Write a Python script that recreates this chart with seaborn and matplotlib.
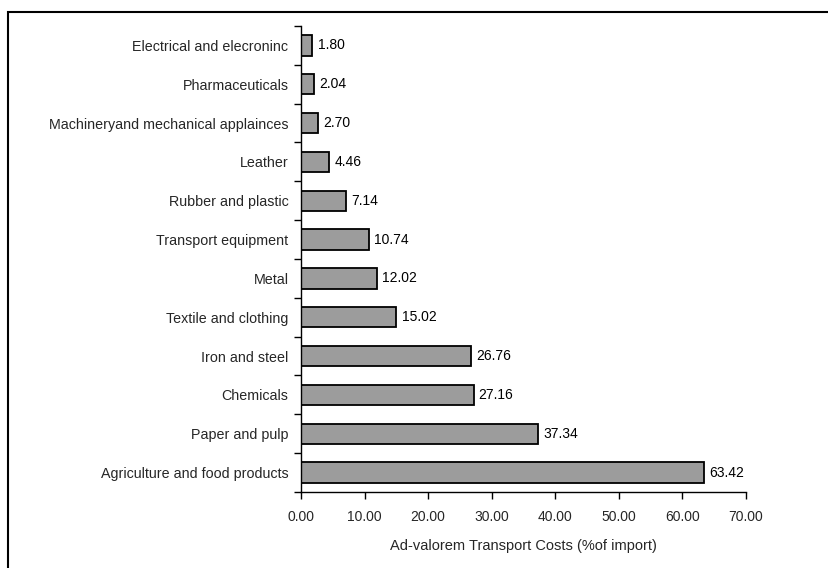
import matplotlib
matplotlib.use("Agg")
import matplotlib.pyplot as plt
from matplotlib.patches import Rectangle
import numpy as np
import pandas as pd
import seaborn as sns

categories = [
    "Electrical and elecroninc",
    "Pharmaceuticals",
    "Machineryand mechanical applainces",
    "Leather",
    "Rubber and plastic",
    "Transport equipment",
    "Metal",
    "Textile and clothing",
    "Iron and steel",
    "Chemicals",
    "Paper and pulp",
    "Agriculture and food products",
]
costs = [1.80, 2.04, 2.70, 4.46, 7.14, 10.74, 12.02, 15.02, 26.76, 27.16, 37.34, 63.42]
x_ticks = [0, 10, 20, 30, 40, 50, 60, 70]
x_label = "Ad-valorem Transport Costs (%of import)"

sns.set_theme(style="white")
plt.rcParams["font.family"] = ["Liberation Sans", "DejaVu Sans"]

df = pd.DataFrame({"category": categories, "cost": costs})

fig = plt.figure(figsize=(8.29, 5.68), dpi=100)
ax = fig.add_axes([301 / 829, 1 - 492 / 568, 445 / 829, 466 / 568])

sns.barplot(data=df, x="cost", y="category", order=categories, color="#9c9c9c",
            edgecolor="black", linewidth=1.3, width=0.52, saturation=1, ax=ax)

for patch, v in zip(ax.patches, costs):
    ax.text(v + 0.8, patch.get_y() + patch.get_height() / 2, f"{v:.2f}",
            va="center", ha="left", fontsize=10, color="black")

n = len(categories)
ax.set_xlim(0, 70)
ax.set_ylim(n - 0.5, -0.5)
ax.set_xticks(x_ticks)
ax.set_xticklabels([f"{t:.2f}" for t in x_ticks], fontsize=10)
ax.set_yticks(range(n))
ax.set_yticklabels(categories, fontsize=10.3)
ax.set_yticks(np.arange(-0.5, n, 1.0), minor=True)
ax.tick_params(axis="y", which="major", length=0, pad=9)
ax.tick_params(axis="y", which="minor", left=True, length=5, width=1, color="black", direction="out")
ax.tick_params(axis="x", which="major", bottom=True, length=5, width=1, color="black", direction="out", pad=8)
ax.set_xlabel(x_label, fontsize=10.5, labelpad=11)
ax.set_ylabel("")

for side in ("top", "right"):
    ax.spines[side].set_visible(False)
for side in ("left", "bottom"):
    ax.spines[side].set_color("black")
    ax.spines[side].set_linewidth(1)

fig.patches.append(Rectangle((8 / 829, -0.05), 1.2, 1 - 12 / 568 + 0.05,
                             transform=fig.transFigure, fill=False,
                             edgecolor="black", linewidth=1.5))

fig.savefig("out.png", dpi=100)
